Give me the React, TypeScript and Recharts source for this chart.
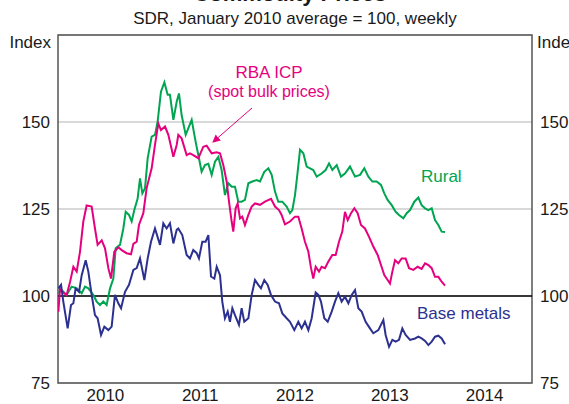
import {
  LineChart,
  Line,
  XAxis,
  YAxis,
  CartesianGrid,
  ReferenceLine,
  ReferenceArea,
} from "recharts";

// weekly index, SDR terms, Jan 2010 avg = 100 ; [decimal year, value]
const rural: [number, number][] = [
  [2010.004, 100.8], [2010.039, 101.7], [2010.091, 100.3], [2010.144, 102.7], [2010.197, 102.2],
  [2010.25, 100.8], [2010.285, 102.7], [2010.32, 102.2], [2010.373, 100.3], [2010.408, 98.4],
  [2010.443, 97.4], [2010.478, 98.4], [2010.513, 97.4], [2010.549, 102.2], [2010.584, 105],
  [2010.608, 113.7], [2010.654, 114.7], [2010.689, 119.4], [2010.714, 124.2], [2010.749, 123.3],
  [2010.777, 121.4], [2010.805, 124.7], [2010.84, 128], [2010.865, 133.8], [2010.89, 129.5],
  [2010.918, 131], [2010.946, 139.6], [2010.988, 145.8], [2011.023, 146.3], [2011.051, 150.1],
  [2011.086, 158.7], [2011.122, 161.4], [2011.157, 157.8], [2011.181, 157.8], [2011.217, 150.6],
  [2011.252, 155.8], [2011.276, 158.2], [2011.304, 152], [2011.347, 146.3], [2011.41, 150.6],
  [2011.452, 144.3], [2011.48, 140.5], [2011.515, 135.7], [2011.55, 137.6], [2011.586, 138],
  [2011.621, 134.8], [2011.656, 138.6], [2011.691, 140], [2011.726, 136.2], [2011.761, 129],
  [2011.797, 132.4], [2011.832, 131.4], [2011.867, 131.4], [2011.902, 127.1], [2011.937, 127.1],
  [2011.972, 127.6], [2012.008, 132.4], [2012.05, 132.9], [2012.095, 133.3], [2012.131, 132.9],
  [2012.176, 135.7], [2012.219, 136.7], [2012.254, 134.8], [2012.289, 130], [2012.324, 127.1],
  [2012.366, 127.1], [2012.412, 125.7], [2012.447, 123.8], [2012.472, 124.7], [2012.5, 129],
  [2012.528, 135.7], [2012.553, 142], [2012.588, 141], [2012.623, 137.2], [2012.658, 136.7],
  [2012.693, 136.2], [2012.729, 134.3], [2012.781, 135.2], [2012.823, 136.2], [2012.859, 138.1],
  [2012.894, 136.2], [2012.94, 137.6], [2012.985, 134.3], [2013.027, 135.2], [2013.08, 137.2],
  [2013.133, 134.3], [2013.186, 134.8], [2013.231, 136.7], [2013.274, 134.3], [2013.316, 132.9],
  [2013.361, 132.9], [2013.407, 131.9], [2013.442, 129.5], [2013.477, 127.6], [2013.52, 126.1],
  [2013.562, 124.2], [2013.597, 123.3], [2013.643, 122.3], [2013.678, 123.8], [2013.714, 124.7],
  [2013.759, 127.1], [2013.801, 128.3], [2013.836, 126.1], [2013.872, 125.2], [2013.907, 124.7],
  [2013.942, 125.2], [2013.977, 121.8], [2014.012, 120.4], [2014.047, 118.5], [2014.083, 118.4],
];

const rbaIcp: [number, number][] = [
  [2010.004, 95.5], [2010.021, 102], [2010.056, 101], [2010.091, 100.3], [2010.127, 104],
  [2010.162, 108.4], [2010.197, 107], [2010.232, 112.7], [2010.267, 121.4], [2010.302, 126],
  [2010.355, 125.7], [2010.39, 119.4], [2010.418, 114.7], [2010.461, 116], [2010.496, 113.7],
  [2010.531, 108], [2010.559, 105], [2010.594, 112.7], [2010.636, 114], [2010.672, 113.2],
  [2010.724, 112.3], [2010.77, 112], [2010.795, 115], [2010.83, 115.6], [2010.854, 120.4],
  [2010.9, 123.8], [2010.935, 131], [2010.988, 136.7], [2011.023, 143.4], [2011.058, 149.6],
  [2011.086, 147.7], [2011.129, 148.7], [2011.164, 146.3], [2011.217, 140], [2011.252, 143.4],
  [2011.269, 146.3], [2011.304, 145.3], [2011.357, 140.5], [2011.392, 141], [2011.427, 140.5],
  [2011.48, 139.6], [2011.533, 142.9], [2011.568, 143.2], [2011.621, 141], [2011.674, 141.3],
  [2011.709, 141], [2011.744, 137.6], [2011.779, 132.9], [2011.804, 127.1], [2011.832, 121.4],
  [2011.849, 118.5], [2011.874, 125.2], [2011.895, 126.6], [2011.92, 122.3], [2011.944, 122.8],
  [2011.972, 120.4], [2012.008, 123.3], [2012.043, 125.7], [2012.078, 126.6], [2012.131, 126.2],
  [2012.183, 127.1], [2012.247, 127.9], [2012.289, 125.7], [2012.331, 124.7], [2012.359, 123.3],
  [2012.394, 120.6], [2012.447, 121.4], [2012.5, 122.8], [2012.535, 122.8], [2012.57, 119.4],
  [2012.605, 115.6], [2012.641, 112.7], [2012.669, 108], [2012.693, 105], [2012.718, 108.4],
  [2012.753, 107], [2012.781, 108.4], [2012.816, 108], [2012.852, 109.9], [2012.894, 111.8],
  [2012.929, 111.8], [2012.964, 115.6], [2012.999, 118.5], [2013.027, 124.2], [2013.056, 121.8],
  [2013.091, 123.8], [2013.126, 125.2], [2013.161, 123.8], [2013.196, 120.4], [2013.238, 119.4],
  [2013.281, 117], [2013.326, 114.2], [2013.372, 111.8], [2013.407, 108.9], [2013.442, 106],
  [2013.477, 104.6], [2013.502, 103.6], [2013.527, 107], [2013.555, 110.3], [2013.59, 109.4],
  [2013.625, 110.8], [2013.667, 110.8], [2013.703, 108], [2013.748, 107.5], [2013.794, 108.4],
  [2013.836, 107.8], [2013.872, 109.4], [2013.907, 108.9], [2013.942, 108], [2013.977, 105.5],
  [2014.012, 105.5], [2014.047, 104.1], [2014.083, 103],
];

const baseMetals: [number, number][] = [
  [2010.004, 102.2], [2010.032, 103.2], [2010.056, 98.4], [2010.102, 90.7], [2010.137, 97.4],
  [2010.162, 97.9], [2010.186, 102.2], [2010.222, 101.2], [2010.25, 106], [2010.292, 110.3],
  [2010.32, 107], [2010.355, 100.3], [2010.39, 94.5], [2010.418, 93.6], [2010.454, 88.8],
  [2010.489, 91.2], [2010.531, 90.2], [2010.566, 91.2], [2010.601, 100.3], [2010.636, 97.9],
  [2010.665, 96.5], [2010.707, 101.2], [2010.749, 103.2], [2010.795, 107.5], [2010.83, 108],
  [2010.865, 110.8], [2010.911, 104.6], [2010.946, 110.8], [2010.981, 115.6], [2011.023, 119.4],
  [2011.076, 114.7], [2011.111, 120.9], [2011.146, 119.4], [2011.181, 120.9], [2011.217, 115.1],
  [2011.252, 119], [2011.269, 119.4], [2011.311, 117.5], [2011.357, 111.8], [2011.392, 110.8],
  [2011.427, 113.2], [2011.463, 112.3], [2011.487, 110.8], [2011.522, 115.6], [2011.557, 115.6],
  [2011.586, 117.5], [2011.614, 105.6], [2011.649, 105], [2011.674, 108.4], [2011.709, 106],
  [2011.733, 98.4], [2011.761, 93.6], [2011.79, 95.5], [2011.814, 92.6], [2011.839, 96.5],
  [2011.867, 94.5], [2011.909, 91.7], [2011.937, 96.5], [2011.965, 92.6], [2012.008, 93.6],
  [2012.043, 100.3], [2012.078, 104.6], [2012.113, 103.2], [2012.141, 102.2], [2012.176, 104.6],
  [2012.212, 103.2], [2012.247, 100.3], [2012.289, 98.4], [2012.331, 97.9], [2012.366, 95],
  [2012.412, 93.6], [2012.447, 92.6], [2012.493, 90.2], [2012.535, 92.6], [2012.57, 90.7],
  [2012.605, 92.6], [2012.641, 90.2], [2012.676, 93.6], [2012.718, 101], [2012.746, 100.3],
  [2012.774, 98.4], [2012.809, 93.6], [2012.845, 92.6], [2012.887, 95.5], [2012.922, 98.4],
  [2012.957, 100.8], [2012.992, 98.4], [2013.027, 99.8], [2013.063, 97.9], [2013.098, 100.3],
  [2013.133, 101.7], [2013.168, 96.5], [2013.203, 95.5], [2013.245, 92.6], [2013.291, 90.7],
  [2013.326, 89.3], [2013.379, 90.2], [2013.432, 93.1], [2013.456, 88.8], [2013.492, 85.4],
  [2013.527, 87.4], [2013.562, 86.9], [2013.597, 87.4], [2013.632, 90.7], [2013.667, 88.8],
  [2013.714, 87.4], [2013.766, 87.8], [2013.801, 88.3], [2013.836, 87.8], [2013.872, 87.1],
  [2013.907, 85.9], [2013.942, 86.9], [2013.977, 88.3], [2014.012, 88.6], [2014.047, 87.8],
  [2014.083, 86.1],
];

const years = [2010, 2011, 2012, 2013, 2014];
const yearMarks = [2011, 2012, 2013, 2014];
const yTicks = [75, 100, 125, 150];

const FONT = "'Liberation Sans', Arial, sans-serif";
const PINK = "#e5007e";
const GREEN = "#00a551";
const NAVY = "#2c3190";

const toRows = (pts: [number, number][]) => pts.map(([t, v]) => ({ t, v }));

const tickStyle = { fontSize: 17, fontFamily: FONT, fill: "#1a1a1a" };

export default function App() {
  return (
    <div style={{ position: "absolute", left: 0, top: 0, width: 569, height: 404, background: "#fff" }}>
      <LineChart
        width={569}
        height={404}
        margin={{ top: 35, right: 0, bottom: 0, left: 0 }}
        style={{ position: "absolute", left: 0, top: 0 }}
      >
        <CartesianGrid vertical={false} stroke="#cccccc" strokeWidth={1.5} />
        <XAxis
          dataKey="t"
          type="number"
          domain={[2010, 2015]}
          allowDataOverflow
          ticks={years.map((y) => y + 0.5)}
          tickFormatter={(v) => String(Math.floor(v))}
          interval={0}
          axisLine={false}
          tickLine={false}
          tickMargin={0}
          height={21}
          tick={tickStyle}
        />
        <XAxis
          xAxisId="marks"
          type="number"
          domain={[2010, 2015]}
          allowDataOverflow
          ticks={yearMarks}
          interval={0}
          mirror
          tickSize={6}
          tickFormatter={() => ""}
          axisLine={false}
          tickLine={{ stroke: "#555", strokeWidth: 1.5 }}
        />
        <YAxis
          type="number"
          domain={[75, 175]}
          allowDataOverflow
          ticks={yTicks}
          interval={0}
          axisLine={false}
          tickLine={false}
          width={58}
          tick={tickStyle}
        />
        <YAxis
          yAxisId="right"
          orientation="right"
          type="number"
          domain={[75, 175]}
          allowDataOverflow
          ticks={yTicks}
          interval={0}
          axisLine={false}
          tickLine={false}
          width={37}
          tick={tickStyle}
        />
        <ReferenceLine y={100} stroke="#000" strokeWidth={1.5} />
        <Line data={toRows(rural)} dataKey="v" type="linear" stroke={GREEN} strokeWidth={2} dot={false} isAnimationActive={false} />
        <Line data={toRows(rbaIcp)} dataKey="v" type="linear" stroke={PINK} strokeWidth={2} dot={false} isAnimationActive={false} />
        <Line data={toRows(baseMetals)} dataKey="v" type="linear" stroke={NAVY} strokeWidth={2} dot={false} isAnimationActive={false} />
        <ReferenceArea x1={2010} x2={2015} y1={75} y2={175} fill="none" stroke="#555" strokeWidth={1.5} />
      </LineChart>

      <svg
        width={569}
        height={404}
        style={{ position: "absolute", left: 0, top: 0, pointerEvents: "none" }}
        fontFamily={FONT}
      >
        <text x={290} y={1} textAnchor="middle" fontSize={22} fontWeight="bold" fill="#1a1a1a">
          Commodity Prices
        </text>
        <text x={295} y={24} textAnchor="middle" fontSize={17} fill="#1a1a1a">
          SDR, January 2010 average = 100, weekly
        </text>
        <text x={51} y={48} textAnchor="end" fontSize={17} fill="#1a1a1a">Index</text>
        <text x={537} y={48} fontSize={17} fill="#1a1a1a">Index</text>

        <text x={269} y={78} textAnchor="middle" fontSize={17} fill={PINK}>RBA ICP</text>
        <text x={269} y={97} textAnchor="middle" fontSize={16} fill={PINK}>(spot bulk prices)</text>
        <defs>
          <marker id="ah" markerWidth="8" markerHeight="8" refX="7" refY="4" orient="auto" markerUnits="userSpaceOnUse">
            <path d="M0,0 L8,4 L0,8 z" fill={PINK} />
          </marker>
        </defs>
        <line x1={252} y1={108} x2={213} y2={142} stroke={PINK} strokeWidth={1} markerEnd="url(#ah)" />

        <text x={421} y={182} fontSize={17} fill={GREEN}>Rural</text>
        <text x={417} y={319} fontSize={17} fill={NAVY}>Base metals</text>
      </svg>
    </div>
  );
}
